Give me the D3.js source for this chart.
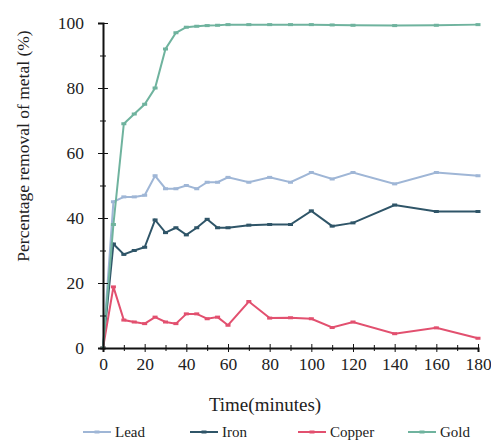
<!DOCTYPE html>
<html><head><meta charset="utf-8">
<script src="https://cdn.jsdelivr.net/npm/d3@7"></script>
<style>body{margin:0;background:#fff}svg{display:block}</style>
</head><body>
<svg id="c" width="491" height="441"></svg>
<script>
const times = [0,5,10,15,20,25,30,35,40,45,50,55,60,70,80,90,100,110,120,140,160,180];
const lead   = [0,45,46.5,46.5,47,53,49,49,50,49,51,51,52.5,51,52.5,51,54,52,54,50.5,54,53];
const iron   = [0,32,28.8,30,31,39.4,35.5,37,34.8,37,39.6,37,37,37.8,38,38,42.2,37.5,38.5,44,42,42];
const copper = [0,18.8,8.6,8,7.5,9.5,8,7.5,10.5,10.5,9,9.5,7,14.3,9.2,9.3,9,6.3,8,4.4,6.2,3];
const gold   = [0,38,69,72,75,80,92,97,98.7,99,99.2,99.3,99.5,99.5,99.5,99.5,99.5,99.4,99.3,99.2,99.3,99.5];
const xTicks = [0,20,40,60,80,100,120,140,160,180];
const yTicks = [0,20,40,60,80,100];
const seriesNames = ["Lead","Iron","Copper","Gold"];
const seriesData = [lead, iron, copper, gold];
const colors = ["#9fb6d6","#2f5568","#e2506f","#6fb39e"];

const svg = d3.select("#c");
const font = "Liberation Serif";
const x = d3.scaleLinear().domain([0,180]).range([103,478]);
const y = d3.scaleLinear().domain([0,100]).range([348,23]);

seriesData.forEach((vals,i)=>{
  const pts = times.map((t,j)=>[t,vals[j]]);
  const line = d3.line().x(d=>x(d[0])).y(d=>y(d[1]));
  svg.append("path").attr("d",line(pts)).attr("fill","none")
    .attr("stroke",colors[i]).attr("stroke-width",2);
  svg.append("g").selectAll("rect").data(pts).join("rect")
    .attr("x",d=>x(d[0])-2.5).attr("y",d=>y(d[1])-1.5)
    .attr("width",5).attr("height",3).attr("fill",colors[i]);
});

const ya = svg.append("g").attr("transform","translate(103,0)")
  .call(d3.axisLeft(y).tickValues(yTicks).tickSize(5).tickPadding(14));
ya.select(".domain").attr("stroke","#111").attr("stroke-width",2);
ya.selectAll(".tick line").attr("x1",5).attr("stroke","#111");
ya.selectAll(".tick text").attr("font-family",font).attr("font-size",17.5).attr("fill","#222");
const ym = svg.append("g").attr("transform","translate(103,0)")
  .call(d3.axisLeft(y).tickValues(d3.range(10,100,20)).tickSize(3).tickFormat(""));
ym.select(".domain").remove();
ym.selectAll(".tick line").attr("x1",3).attr("stroke","#111");

const xa = svg.append("g").attr("transform","translate(0,348)")
  .call(d3.axisBottom(x).tickValues(xTicks).tickSize(4).tickPadding(6));
xa.select(".domain").attr("stroke","#111").attr("stroke-width",2);
xa.selectAll(".tick line").attr("y1",-4).attr("stroke","#111");
xa.selectAll(".tick text").attr("font-family",font).attr("font-size",17.5).attr("fill","#222");
const xm = svg.append("g").attr("transform","translate(0,348)")
  .call(d3.axisBottom(x).tickValues(d3.range(10,180,20)).tickSize(3).tickFormat(""));
xm.select(".domain").remove();
xm.selectAll(".tick line").attr("y1",-3).attr("stroke","#111");

svg.append("text").attr("x",265).attr("y",411).attr("text-anchor","middle")
  .attr("font-family",font).attr("font-size",19).attr("fill","#222").text("Time(minutes)");
svg.append("text").attr("transform","translate(29,146) rotate(-90)").attr("text-anchor","middle")
  .attr("font-family",font).attr("font-size",17.5).attr("fill","#222")
  .text("Percentage removal  of metal (%)");

const legX = [83,190,298,408];
const lg = svg.append("g").selectAll("g").data(seriesNames).join("g")
  .attr("transform",(d,i)=>`translate(${legX[i]},432)`);
lg.append("line").attr("x1",0).attr("x2",28).attr("y1",0).attr("y2",0)
  .attr("stroke",(d,i)=>colors[i]).attr("stroke-width",2);
lg.append("rect").attr("x",11.5).attr("y",-1.5).attr("width",5).attr("height",3)
  .attr("fill",(d,i)=>colors[i]);
lg.append("text").attr("x",32).attr("y",5).attr("font-family",font).attr("font-size",15)
  .attr("fill","#222").text(d=>d);
</script>
</body></html>
